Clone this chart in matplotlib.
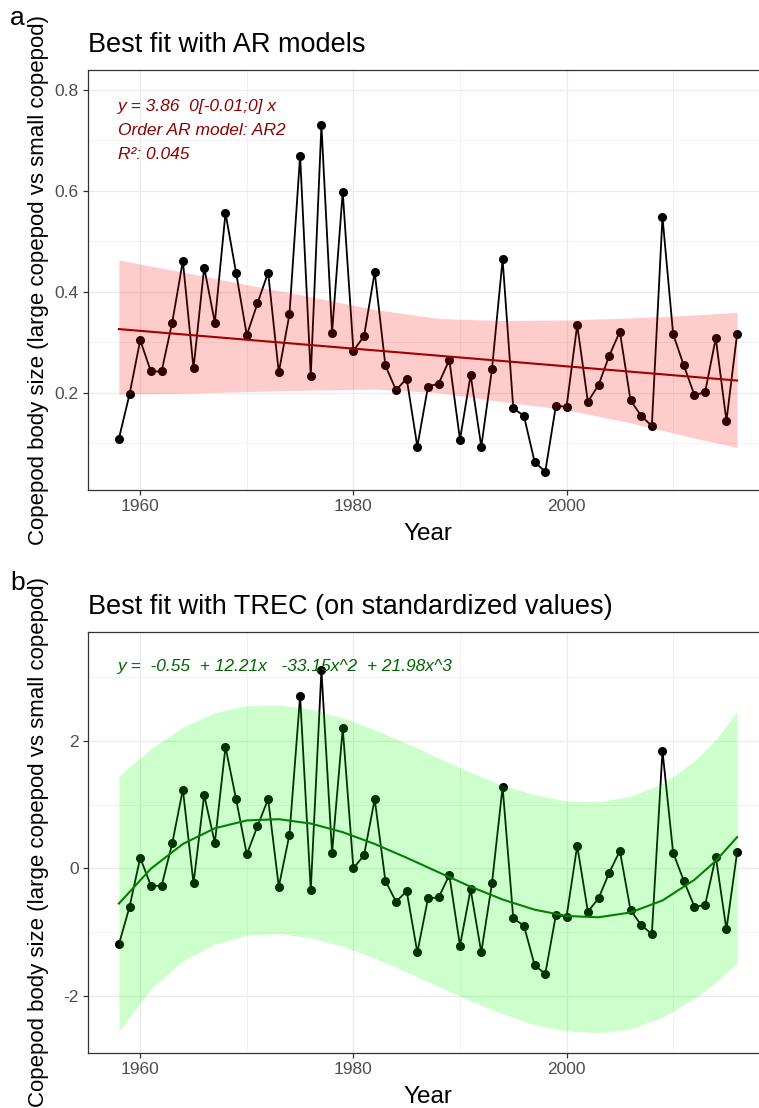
import matplotlib
matplotlib.use("Agg")
import matplotlib.pyplot as plt
from matplotlib.ticker import MultipleLocator

plt.rcParams['font.family'] = ['Liberation Sans', 'DejaVu Sans']
plt.rcParams['axes.unicode_minus'] = False

years = list(range(1958, 2017))

# Panel a: copepod size ratio
size_ratio = [0.109, 0.197, 0.304, 0.242, 0.242, 0.339, 0.461, 0.248, 0.448, 0.339,
              0.556, 0.437, 0.314, 0.377, 0.438, 0.240, 0.355, 0.670, 0.233, 0.730,
              0.319, 0.598, 0.283, 0.312, 0.439, 0.254, 0.205, 0.228, 0.093, 0.212,
              0.218, 0.265, 0.107, 0.235, 0.093, 0.246, 0.464, 0.169, 0.154, 0.063,
              0.043, 0.174, 0.172, 0.334, 0.182, 0.215, 0.273, 0.321, 0.185, 0.154,
              0.134, 0.548, 0.316, 0.254, 0.195, 0.201, 0.308, 0.144, 0.316]
ar_fit_years = [1958, 2016]
ar_fit_values = [0.326, 0.224]
ar_band_years = [1958, 1964, 1970, 1976, 1982, 1988, 1994, 2000, 2006, 2012, 2016]
ar_band_upper = [0.463, 0.439, 0.414, 0.390, 0.365, 0.347, 0.343, 0.344, 0.348, 0.354, 0.359]
ar_band_lower = [0.197, 0.199, 0.202, 0.205, 0.207, 0.200, 0.182, 0.166, 0.140, 0.110, 0.091]

# Panel b: standardized values
std_values = [-1.189, -0.600, 0.167, -0.271, -0.276, 0.391, 1.236, -0.235, 1.148, 0.402,
              1.904, 1.080, 0.219, 0.662, 1.085, -0.287, 0.527, 2.697, -0.344, 3.104,
              0.245, 2.196, 0.000, 0.209, 1.085, -0.193, -0.522, -0.355, -1.315, -0.469,
              -0.454, -0.104, -1.210, -0.329, -1.315, -0.235, 1.278, -0.782, -0.897, -1.513,
              -1.654, -0.730, -0.756, 0.355, -0.678, -0.469, -0.068, 0.276, -0.652, -0.887,
              -1.028, 1.841, 0.245, -0.193, -0.600, -0.574, 0.183, -0.955, 0.250]
trec_years = [1958, 1961, 1964, 1967, 1970, 1973, 1976, 1979, 1982, 1985, 1988,
              1991, 1994, 1997, 2000, 2003, 2006, 2009, 2012, 2014, 2016]
trec_fit = [-0.550, -0.004, 0.383, 0.629, 0.752, 0.771, 0.703, 0.568, 0.383, 0.167, -0.061,
            -0.286, -0.487, -0.646, -0.745, -0.765, -0.690, -0.502, -0.178, 0.118, 0.490]
trec_upper = [1.450, 1.876, 2.213, 2.439, 2.552, 2.561, 2.493, 2.358, 2.173, 1.957, 1.729,
              1.504, 1.303, 1.154, 1.055, 1.045, 1.130, 1.328, 1.682, 2.018, 2.460]
trec_lower = [-2.550, -1.884, -1.447, -1.181, -1.048, -1.019, -1.087, -1.222, -1.407, -1.623, -1.851,
              -2.076, -2.277, -2.446, -2.545, -2.575, -2.510, -2.332, -2.038, -1.782, -1.480]

xticks = [1960, 1980, 2000]
ylabel = "Copepod body size (large copepod vs small copepod)"

W, H = 759, 1108
fig = plt.figure(figsize=(W / 100, H / 100), dpi=100)

def frac_axes(left, top, right, bottom):
    return fig.add_axes([left / W, 1 - bottom / H, (right - left) / W, (bottom - top) / H])

axA = frac_axes(88, 70, 768, 490)
axB = frac_axes(88, 632, 768, 1052.5)

def style(ax, ylim, major, minor):
    ax.set_xlim(1955.1, 2018.9)
    ax.set_ylim(*ylim)
    ax.set_xticks(xticks)
    ax.xaxis.set_minor_locator(MultipleLocator(10))
    ax.yaxis.set_major_locator(MultipleLocator(major))
    ax.yaxis.set_minor_locator(MultipleLocator(minor))
    ax.grid(which='major', color='#EBEBEB', lw=0.9, zorder=0)
    ax.grid(which='minor', color='#EBEBEB', lw=0.45, zorder=0)
    ax.set_axisbelow(True)
    for s in ax.spines.values():
        s.set_color('#333333')
        s.set_linewidth(0.9)
    ax.tick_params(which='major', length=3.5, width=0.9, color='#333333',
                   labelcolor='#4D4D4D', labelsize=12.5, pad=3)
    ax.tick_params(which='minor', length=0)
    ax.set_xlabel("Year", fontsize=17.5, color='black', va='center')
    ax.xaxis.set_label_coords(0.5, -0.105)
    ax.set_ylabel(ylabel, fontsize=16, color='black', va='center')
    ax.yaxis.set_label_coords(-0.0735, 0.5)

# Panel a
style(axA, (0.007, 0.8396), 0.2, 0.1)
axA.plot(years, size_ratio, color='black', lw=1.3, marker='o', ms=5.5, zorder=3)
axA.plot(ar_fit_years, ar_fit_values, color='#8B0000', lw=1.5, zorder=4)
axA.fill_between(ar_band_years, ar_band_lower, ar_band_upper, color='red', alpha=0.2,
                 lw=0, zorder=5)
for i, line in enumerate(["y = 3.86  0[-0.01;0] x", "Order AR model: AR2", "R²: 0.045"]):
    axA.text(0.0445, 0.912 - i * 0.057, line, transform=axA.transAxes, color='#8B0000',
             style='italic', fontsize=12.5, va='center', ha='left')
fig.text(88 / W, 1 - 45 / H, "Best fit with AR models", fontsize=19.5, ha='left', va='center')
fig.text(10 / W, 1 - 18 / H, "a", fontsize=19, ha='left', va='center')

# Panel b
style(axB, (-2.883, 3.703), 2, 1)
axB.plot(years, std_values, color='black', lw=1.3, marker='o', ms=5.5, zorder=3)
axB.plot(trec_years, trec_fit, color='#006400', lw=1.5, zorder=4)
axB.fill_between(trec_years, trec_lower, trec_upper, color='#00FF00', alpha=0.2,
                 lw=0, zorder=5)
axB.text(0.0445, 0.917, "y =  -0.55  + 12.21x   -33.15x^2  + 21.98x^3", transform=axB.transAxes,
         color='#006400', style='italic', fontsize=12.5, va='center', ha='left')
fig.text(88 / W, 1 - 607 / H, "Best fit with TREC (on standardized values)", fontsize=19.5,
         ha='left', va='center')
fig.text(10 / W, 1 - 583 / H, "b", fontsize=19, ha='left', va='center')

fig.savefig("out.png", dpi=100)
